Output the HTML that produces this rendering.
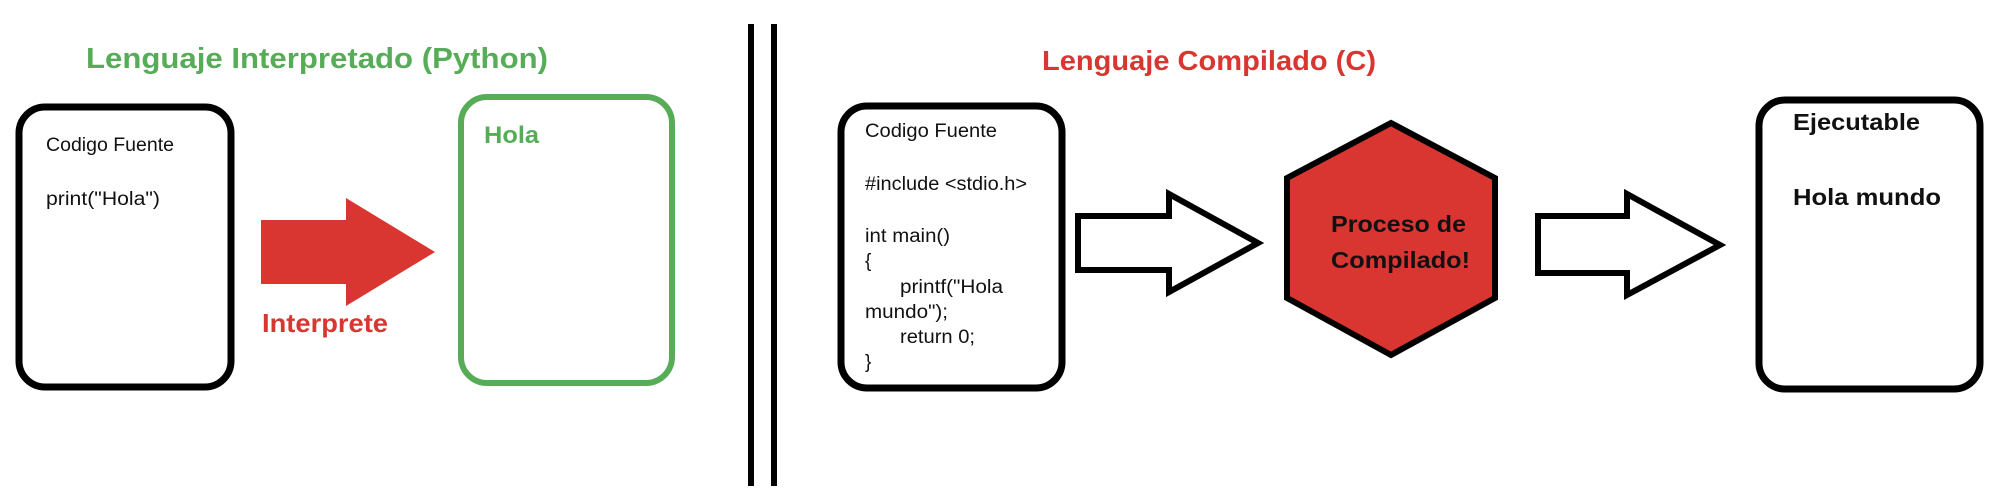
<!DOCTYPE html>
<html><head><meta charset="utf-8"><style>
html,body{margin:0;padding:0;background:#fff;width:2004px;height:500px;overflow:hidden}
text{font-family:"Liberation Sans",sans-serif}
</style></head><body>
<svg width="2004" height="500" viewBox="0 0 2004 500" xmlns="http://www.w3.org/2000/svg">
<rect width="2004" height="500" fill="#fff"/>
<text x="86" y="68" font-size="29" font-weight="bold" fill="#57ad57" textLength="462" lengthAdjust="spacingAndGlyphs">Lenguaje Interpretado (Python)</text>
<rect x="19" y="107" width="212" height="280" rx="26" fill="none" stroke="#000" stroke-width="7"/>
<text x="46" y="151" font-size="19" fill="#111" textLength="128" lengthAdjust="spacingAndGlyphs">Codigo Fuente</text>
<text x="46" y="205" font-size="19" fill="#111" textLength="114" lengthAdjust="spacingAndGlyphs">print("Hola")</text>
<polygon points="261,220 346,220 346,198 435,252 346,306 346,284 261,284" fill="#d93632"/>
<text x="262" y="332" font-size="26" font-weight="bold" fill="#d93632" textLength="126" lengthAdjust="spacingAndGlyphs">Interprete</text>
<rect x="461" y="97" width="211" height="286" rx="26" fill="none" stroke="#57ad57" stroke-width="6"/>
<text x="484" y="143" font-size="24" font-weight="bold" fill="#57ad57" textLength="55" lengthAdjust="spacingAndGlyphs">Hola</text>
<rect x="748" y="24" width="6" height="462" fill="#000"/>
<rect x="771" y="24" width="6" height="462" fill="#000"/>
<text x="1042" y="70" font-size="28" font-weight="bold" fill="#d93632" textLength="334" lengthAdjust="spacingAndGlyphs">Lenguaje Compilado (C)</text>
<rect x="841" y="106" width="221" height="282" rx="26" fill="none" stroke="#000" stroke-width="7"/>
<g font-size="19" fill="#111">
<text x="865" y="137" textLength="132" lengthAdjust="spacingAndGlyphs">Codigo Fuente</text>
<text x="865" y="190" textLength="162" lengthAdjust="spacingAndGlyphs">#include &lt;stdio.h&gt;</text>
<text x="865" y="242" textLength="85" lengthAdjust="spacingAndGlyphs">int main()</text>
<text x="865" y="267">{</text>
<text x="900" y="293" textLength="103" lengthAdjust="spacingAndGlyphs">printf("Hola</text>
<text x="865" y="318" textLength="83" lengthAdjust="spacingAndGlyphs">mundo");</text>
<text x="900" y="343" textLength="75" lengthAdjust="spacingAndGlyphs">return 0;</text>
<text x="865" y="368">}</text>
</g>
<polygon points="1078,216 1169,216 1169,194 1258,243 1169,292 1169,270 1078,270" fill="#fff" stroke="#000" stroke-width="6" stroke-linejoin="miter"/>
<polygon points="1391,123 1495,178 1495,298 1391,355 1287,298 1287,178" fill="#d93632" stroke="#000" stroke-width="6"/>
<text x="1331" y="232" font-size="23" font-weight="bold" fill="#111" textLength="135" lengthAdjust="spacingAndGlyphs">Proceso de</text>
<text x="1331" y="268" font-size="23" font-weight="bold" fill="#111" textLength="139" lengthAdjust="spacingAndGlyphs">Compilado!</text>
<polygon points="1538,216 1627,216 1627,194 1720,245 1627,295 1627,273 1538,273" fill="#fff" stroke="#000" stroke-width="6"/>
<rect x="1759" y="100" width="221" height="289" rx="26" fill="none" stroke="#000" stroke-width="7"/>
<text x="1793" y="130" font-size="23" font-weight="bold" fill="#111" textLength="127" lengthAdjust="spacingAndGlyphs">Ejecutable</text>
<text x="1793" y="205" font-size="23" font-weight="bold" fill="#111" textLength="148" lengthAdjust="spacingAndGlyphs">Hola mundo</text>
</svg>
</body></html>
